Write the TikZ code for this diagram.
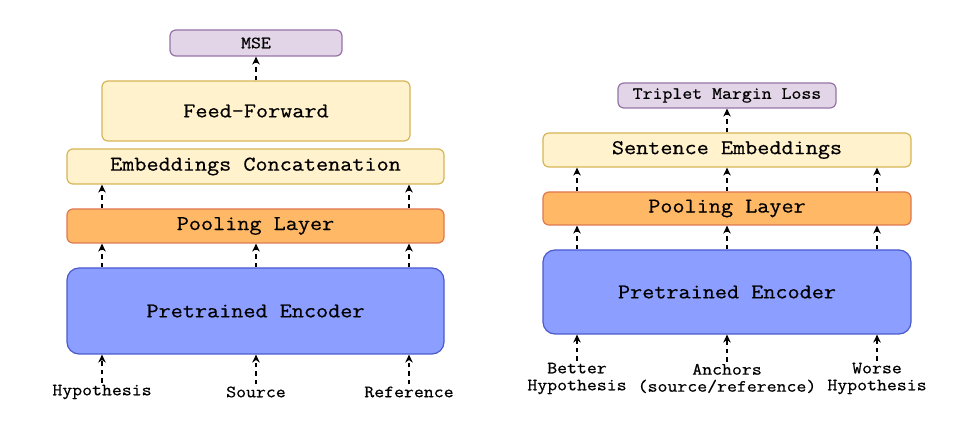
\documentclass[tikz,border=0pt]{standalone}
\usepackage{fontspec}
\setmonofont{Latin Modern Mono}[FakeStretch=1.12, FakeBold=0.6]
\usetikzlibrary{arrows.meta}
\definecolor{mseFill}{HTML}{E1D5E7}
\definecolor{mseLine}{HTML}{9673A6}
\definecolor{ffFill}{HTML}{FFF2CC}
\definecolor{ffLine}{HTML}{D6B656}
\definecolor{poolFill}{HTML}{FFB866}
\definecolor{poolLine}{HTML}{E07850}
\definecolor{encFill}{HTML}{8C9EFF}
\definecolor{encLine}{HTML}{4A5ACD}
\tikzset{box/.style={draw, line width=1.2pt, rounded corners=6pt, font=\ttfamily\fontsize{21}{23}\selectfont, inner sep=0pt}}
\tikzset{lossbox/.style={box, fill=mseFill, draw=mseLine, font=\ttfamily\fontsize{17.2}{18}\selectfont}}
\tikzset{ffbox/.style={box, fill=ffFill, draw=ffLine}}
\tikzset{poolbox/.style={box, fill=poolFill, draw=poolLine}}
\tikzset{encbox/.style={box, fill=encFill, draw=encLine, rounded corners=12pt}}
\tikzset{inlabel/.style={font=\ttfamily\fontsize{17.2}{17}\selectfont, align=center, inner sep=2pt}}
\tikzset{flow/.style={-{Stealth[length=8pt,width=7.5pt]}, dashed, dash pattern=on 4.5pt off 4pt, line width=1.7pt}}

\begin{document}
\begin{tikzpicture}[x=1pt,y=-1pt]
		\useasboundingbox (0,0) rectangle (975,427);
		% left: regression model
		\node[lossbox, minimum width=172pt, minimum height=26pt] (mse) at (256,43) {MSE};
		\node[ffbox, minimum width=308pt, minimum height=60pt] (ff) at (256,111) {Feed-Forward};
		\node[ffbox, minimum width=377pt, minimum height=35pt] (concat) at (255.5,166.5) {Embeddings Concatenation};
		\node[poolbox, minimum width=377pt, minimum height=34pt] (pool) at (255.5,226) {Pooling Layer};
		\node[encbox, minimum width=377pt, minimum height=86pt] (enc) at (255.5,311) {Pretrained Encoder};
		\node[inlabel] (hyp) at (102,392) {Hypothesis};
		\node[inlabel] (src) at (256,392) {Source};
		\node[inlabel] (ref) at (409,392) {Reference};
		\foreach \n in {hyp,src,ref} {
			\draw[flow] (\n.north) -- (enc.south -| \n);
			\draw[flow] (enc.north -| \n) -- (pool.south -| \n);
		}
		\foreach \n in {hyp,ref}
			\draw[flow] (pool.north -| \n) -- (concat.south -| \n);
		\draw[flow] (ff.north) -- (mse.south);
		% right: ranking model
		\node[lossbox, minimum width=218pt, minimum height=25pt] (tml) at (727,95.5) {Triplet Margin Loss};
		\node[ffbox, minimum width=368pt, minimum height=34pt] (sent) at (727,150) {Sentence Embeddings};
		\node[poolbox, minimum width=368pt, minimum height=33pt] (pool2) at (727,208.5) {Pooling Layer};
		\node[encbox, minimum width=368pt, minimum height=84pt] (enc2) at (727,292) {Pretrained Encoder};
		\node[inlabel] (better) at (577,378.5) {Better\\Hypothesis};
		\node[inlabel] (anchor) at (727,378.5) {Anchors\\(source/reference)};
		\node[inlabel] (worse) at (877,378.5) {Worse\\Hypothesis};
		\foreach \n in {better,anchor,worse} {
			\draw[flow] (\n.north) -- (enc2.south -| \n);
			\draw[flow] (enc2.north -| \n) -- (pool2.south -| \n);
			\draw[flow] (pool2.north -| \n) -- (sent.south -| \n);
		}
		\draw[flow] (sent.north) -- (tml.south);
\end{tikzpicture}
\end{document}
